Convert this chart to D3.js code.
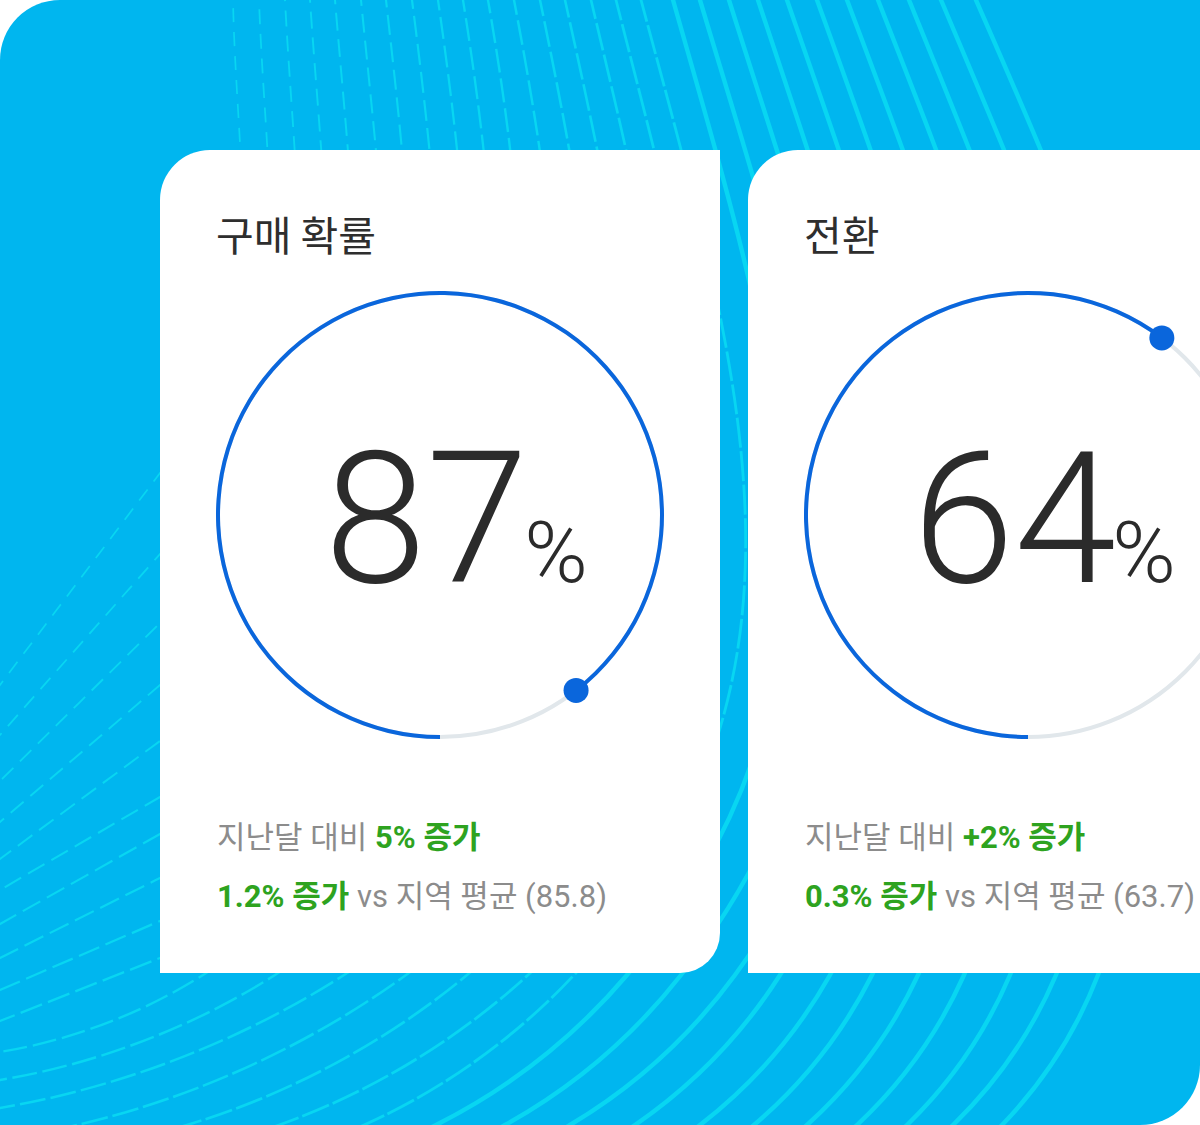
<!DOCTYPE html>
<html>
<head>
<meta charset="utf-8">
<script src="https://cdn.jsdelivr.net/npm/d3@7"></script>
<style>
	html, body { margin: 0; padding: 0; background: #fff; }
	svg { display: block; }
</style>
</head>
<body>
<div id="chart"></div>
<script>
const width = 1200;
const height = 1125;

// card values
const cardTitles = ["구매 확률", "전환"];
const scoreValues = [87, 64];
const ringShare = [89.5, 60.3]; // how much of the ring is blue
const monthDelta = ["5%", "+2%"];
const regionDelta = ["1.2%", "0.3%"];
const regionAverage = ["85.8", "63.7"];

// background line guides (where each line meets the visible edges)
const topEntryX = [233, 259, 285, 310, 335, 361, 386, 412, 438, 463, 488, 514, 540, 565, 591, 616, 641,
	673, 700, 729, 758, 787, 817, 847, 878, 909, 941, 976];
const edgeCrossY = [473, 554, 623, 685, 741, 797, 834, 878, 921, 958, 996, 1033, 1064];
const edgeExitY = [685, 735, 781, 822, 859, 890, 924, 958, 990, 1021, 1052, 1080, 1108];
const lowCrossX = [null, null, null, null, null, null, null, null, null, null, 203, 275, 344,
	406, 467, 528, 574, 627, 681, 735, 780, 830, 872, 918, 964, 1010, 1056, 1098];
const bottomExitX = [77, 187, 279, 364, 436, 505, 570, 635, 700, 754, 807, 857, 907, 953, 1002];
const dashedCount = 17;

const svg = d3.select("#chart").append("svg")
	.attr("width", width)
	.attr("height", height)
	.attr("viewBox", [0, 0, width, height]);

//rect with its own radius per corner: tl, tr, br, bl
const roundRect = (x, y, w, h, tl, tr, br, bl) => {
	const p = d3.path();
	p.moveTo(x + tl, y);
	p.lineTo(x + w - tr, y);
	if (tr) p.arcTo(x + w, y, x + w, y + tr, tr);
	p.lineTo(x + w, y + h - br);
	if (br) p.arcTo(x + w, y + h, x + w - br, y + h, br);
	p.lineTo(x + bl, y + h);
	if (bl) p.arcTo(x, y + h, x, y + h - bl, bl);
	p.lineTo(x, y + tl);
	if (tl) p.arcTo(x, y, x + tl, y, tl);
	p.closePath();
	return p.toString();
};

const bgShape = roundRect(0, 0, width, height, 60, 0, 60, 0);
svg.append("clipPath").attr("id", "bg-clip")
	.append("path").attr("d", bgShape);

svg.append("path")
	.attr("d", bgShape)
	.attr("fill", "#00b6ef");

// background lines: top entry -> first low point -> exit
const guides = topEntryX.map((xt, i) => {
	const slope = 0.02 + 0.0155 * i;
	let b, exit;
	if (i < edgeExitY.length) {
		b = lowCrossX[i] !== null ? [lowCrossX[i], 975] : [160, edgeCrossY[i]];
		exit = [0, edgeExitY[i]];
	} else {
		b = [lowCrossX[i], 975];
		exit = [bottomExitX[i - edgeExitY.length], height];
	}
	// lines low on the card bend: steeper where they come out, flatter at the edge
	const bend = b[1] === 975 ? 0.2 : 0;
	return {i, xt, slope, b, exit, bend};
});

const guidePath = g => {
	const p = d3.path();
	const l0 = Math.hypot(g.slope, 1);
	const t0 = [g.slope / l0, 1 / l0];
	const phi = Math.atan2(g.exit[1] - g.b[1], g.exit[0] - g.b[0]);
	const tb = [Math.cos(phi - g.bend), Math.sin(phi - g.bend)];
	const te = [Math.cos(phi + g.bend), Math.sin(phi + g.bend)];
	const len = Math.hypot(g.b[0] - g.xt, g.b[1]) * 0.4;
	const low = Math.hypot(g.exit[0] - g.b[0], g.exit[1] - g.b[1]) / 3;
	p.moveTo(g.xt - g.slope * 40, -40);
	p.lineTo(g.xt, 0);
	p.bezierCurveTo(g.xt + t0[0] * len, t0[1] * len,
		g.b[0] - tb[0] * len, g.b[1] - tb[1] * len,
		g.b[0], g.b[1]);
	p.bezierCurveTo(g.b[0] + tb[0] * low, g.b[1] + tb[1] * low,
		g.exit[0] - te[0] * low, g.exit[1] - te[1] * low,
		g.exit[0], g.exit[1]);
	p.lineTo(g.exit[0] + te[0] * 80, g.exit[1] + te[1] * 80);
	return p.toString();
};

const lineLayer = svg.append("g").attr("clip-path", "url(#bg-clip)");
lineLayer.selectAll("path")
	.data(guides)
	.join("path")
	.attr("d", guidePath)
	.attr("fill", "none")
	.attr("stroke", "#08d6f2")
	.attr("stroke-width", g => g.i < dashedCount ? 1.7 + g.i * 0.07 : 4.4)
	.attr("stroke-dasharray", g => g.i < dashedCount ? `${14 + g.i} ${Math.max(3, 10 - g.i * 0.4)}` : null);

// cards
const cardX = d3.scaleBand()
	.domain(d3.range(cardTitles.length))
	.range([160, 160 + 588 * 2 - 28])
	.paddingInner(28 / 588);
const cardTop = 150;
const cardH = 823;
const ringR = 222;
const angle = d3.scaleLinear().domain([0, 100]).range([Math.PI, 3 * Math.PI]);

const card = svg.selectAll("g.card")
	.data(cardTitles.map((t, i) => ({i, title: t})))
	.join("g")
	.attr("class", "card")
	.attr("transform", d => `translate(${cardX(d.i)}, ${cardTop})`);

card.append("path")
	.attr("d", roundRect(0, 0, cardX.bandwidth(), cardH, 50, 0, 40, 0))
	.attr("fill", "#fff");

card.append("text")
	.attr("x", 56)
	.attr("y", 101)
	.attr("font-family", "'Noto Sans CJK KR', sans-serif")
	.attr("font-size", 41)
	.attr("fill", "#2e2e2e")
	.text(d => d.title);

const ring = card.append("g").attr("transform", `translate(280, 365)`);

ring.append("circle")
	.attr("r", ringR)
	.attr("fill", "none")
	.attr("stroke", "#e1e7eb")
	.attr("stroke-width", 4);

const arc = d3.arc().innerRadius(ringR - 2).outerRadius(ringR + 2);
ring.append("path")
	.attr("d", d => arc({startAngle: angle(0), endAngle: angle(ringShare[d.i])}))
	.attr("fill", "#0a66dc");

ring.append("circle")
	.attr("cx", d => ringR * Math.sin(angle(ringShare[d.i])))
	.attr("cy", d => -ringR * Math.cos(angle(ringShare[d.i])))
	.attr("r", 12.5)
	.attr("fill", "#0a66dc");

const big = ring.append("text")
	.attr("x", 16)
	.attr("y", 67)
	.attr("text-anchor", "middle")
	.attr("font-family", "Roboto, sans-serif")
	.attr("font-weight", 300)
	.attr("fill", "#2b2b2b");
big.append("tspan")
	.attr("font-size", 184)
	.text(d => scoreValues[d.i]);
big.append("tspan")
	.attr("font-size", 86)
	.attr("dx", -4)
	.text("%");

const statFont = "Roboto, 'Noto Sans CJK KR', sans-serif";
const line1 = card.append("text")
	.attr("x", 57)
	.attr("y", 698)
	.attr("font-family", statFont)
	.attr("font-size", 31);
line1.append("tspan").attr("fill", "#8c8c8c").text("지난달 대비 ");
line1.append("tspan").attr("fill", "#2ea31f").attr("font-weight", 700)
	.text(d => `${monthDelta[d.i]} 증가`);

const line2 = card.append("text")
	.attr("x", 57)
	.attr("y", 757)
	.attr("font-family", statFont)
	.attr("font-size", 31);
line2.append("tspan").attr("fill", "#2ea31f").attr("font-weight", 700)
	.text(d => `${regionDelta[d.i]} 증가`);
line2.append("tspan").attr("fill", "#8c8c8c")
	.text(d => ` vs 지역 평균 (${regionAverage[d.i]})`);
</script>
</body>
</html>
